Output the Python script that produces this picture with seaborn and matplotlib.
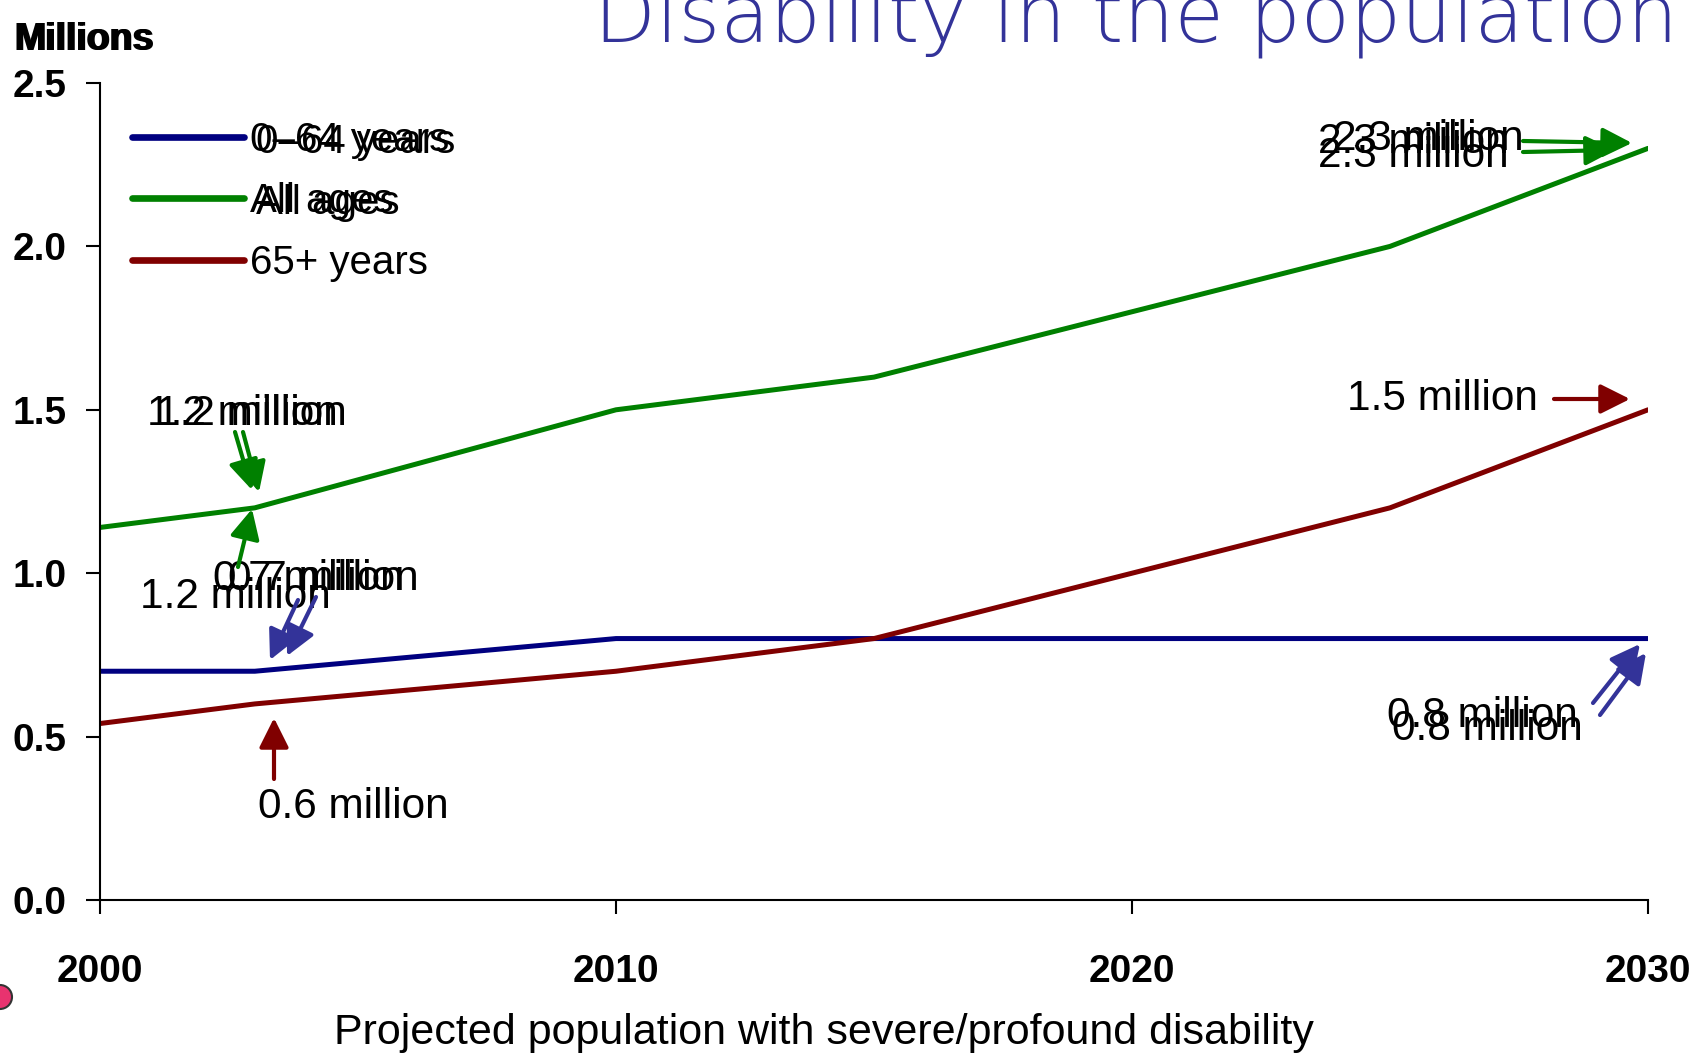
import numpy as np
import pandas as pd
import seaborn as sns
import matplotlib.pyplot as plt
from matplotlib.patches import Ellipse

W, H = 1692, 1055

years = [2000, 2003, 2010, 2015, 2020, 2025, 2030]
age_0_64 = [0.70, 0.70, 0.80, 0.80, 0.80, 0.80, 0.80]
all_ages = [1.14, 1.20, 1.50, 1.60, 1.80, 2.00, 2.30]
age_65_plus = [0.54, 0.60, 0.70, 0.80, 1.00, 1.20, 1.50]
series_names = ["0\u201364 years", "All ages", "65+ years"]
series_colors = ["#000080", "#008000", "#800000"]
y_ticks = [0.0, 0.5, 1.0, 1.5, 2.0, 2.5]
x_ticks = [2000, 2010, 2020, 2030]

# callout labels (text, left px, baseline px) - the slide has duplicated copies
callouts = [
    ("2.3 million", 1318, 153), ("2.3 million", 1333, 150), ("2.3 million", 1318, 167),
    ("1.5 million", 1347, 410),
    ("1.2 million", 147, 425), ("1.2 million", 156, 425),
    ("0.7 million", 213, 590), ("0.7 million", 228, 590),
    ("1.2 million", 140, 608),
    ("0.6 million", 258, 818),
    ("0.8 million", 1387, 727), ("0.8 million", 1392, 740),
]
# arrows (tail px, tip px, colour)
arrows = [
    ((1523, 141), (1632, 143), "#008000"), ((1523, 152), (1615, 150), "#008000"),
    ((1554, 399), (1630, 399), "#800000"),
    ((235, 432), (252, 490), "#008000"), ((243, 432), (259, 492), "#008000"),
    ((238, 567), (252, 509), "#008000"),
    ((298, 600), (270, 660), "#333399"), ((316, 597), (287, 656), "#333399"),
    ((274, 779), (274, 718), "#800000"),
    ((1593, 703), (1640, 644), "#333399"), ((1600, 715), (1646, 653), "#333399"),
]

FONT = ["Liberation Sans", "DejaVu Sans"]


def fp(x, y):
    return (x, H - y)


def main():
    df = pd.DataFrame({
        "year": years * 3,
        "value": age_0_64 + all_ages + age_65_plus,
        "series": [series_names[0]] * len(years) + [series_names[1]] * len(years)
                  + [series_names[2]] * len(years),
    })

    sns.set_style("ticks")
    plt.rcParams["font.family"] = FONT
    plt.rcParams["text.color"] = "black"
    plt.rcParams["axes.labelcolor"] = "black"
    plt.rcParams["xtick.color"] = "black"
    plt.rcParams["ytick.color"] = "black"

    fig = plt.figure(figsize=(W / 100, H / 100), dpi=100)
    ax = fig.add_axes([100 / W, 1 - 900 / H, 1548 / W, 817 / H])

    sns.lineplot(data=df, x="year", y="value", hue="series", hue_order=series_names,
                 palette=series_colors, linewidth=3.6, ax=ax)

    ax.set_xlim(2000, 2030)
    ax.set_ylim(0, 2.5)
    ax.set_xticks(x_ticks, labels=[str(v) for v in x_ticks])
    ax.set_yticks(y_ticks, labels=[f"{v:.1f}" for v in y_ticks])
    ax.tick_params(axis="both", length=10, width=1.5, labelsize=28)
    ax.tick_params(axis="x", pad=29)
    ax.tick_params(axis="y", pad=14)
    for lab in ax.get_xticklabels() + ax.get_yticklabels():
        lab.set_fontweight("bold")
    for s in ["left", "bottom"]:
        ax.spines[s].set_linewidth(1.5)
        ax.spines[s].set_color("black")
    sns.despine(ax=ax)
    ax.set_ylabel("")
    ax.set_xlabel("Projected population with severe/profound disability", fontsize=31)
    ax.xaxis.label.set_va("baseline")
    ax.xaxis.set_label_coords((824 - 100) / 1548, (900 - 1044) / 817)

    handles, labels = ax.get_legend_handles_labels()
    leg = ax.legend(handles, labels, loc="upper left", frameon=False,
                    bbox_to_anchor=(132 / W, 1 - 121 / H), bbox_transform=fig.transFigure,
                    fontsize=29, handlelength=2.78, handletextpad=0.15,
                    labelspacing=0.58, borderpad=0, borderaxespad=0)
    for line in leg.get_lines():
        line.set_linewidth(4.8)

    # title, partly cut off at the top of the slide
    fig.text(594 / W, 1 - 41 / H, "Disability in the population", ha="left",
             va="baseline", color="#333399", fontsize=58,
             fontfamily="DejaVu Sans", fontweight="light")

    for dx in (0, 2):
        fig.text((13 + dx) / W, 1 - 50 / H, "Millions", ha="left", va="baseline",
                 fontsize=27, fontweight="bold")

    for txt, x, y in callouts:
        ax.annotate(txt, xy=fp(x, y), xycoords="figure pixels", ha="left",
                    va="baseline", fontsize=30.5)
    for tail, tip, col in arrows:
        ax.annotate("", xy=fp(*tip), xytext=fp(*tail), xycoords="figure pixels",
                    textcoords="figure pixels",
                    arrowprops=dict(arrowstyle="-|>,head_length=0.9,head_width=0.45",
                                    mutation_scale=20, lw=3, color=col,
                                    shrinkA=0, shrinkB=0))

    # doubled legend labels like on the slide
    fig.canvas.draw()
    renderer = fig.canvas.get_renderer()
    inv = fig.transFigure.inverted()
    for t in leg.get_texts()[:2]:
        bb = t.get_window_extent(renderer)
        x0, y0 = inv.transform((bb.x0 + 6, bb.y0 - 2))
        fig.text(x0, y0, t.get_text(), ha="left", va="bottom", fontsize=29)

    fig.add_artist(Ellipse((0, 1 - 997 / H), 24 / W, 24 / H, transform=fig.transFigure,
                           facecolor="#e8336f", edgecolor="#333333", lw=1.5))

    fig.savefig("out.png", dpi=100)


if __name__ == "__main__":
    main()
